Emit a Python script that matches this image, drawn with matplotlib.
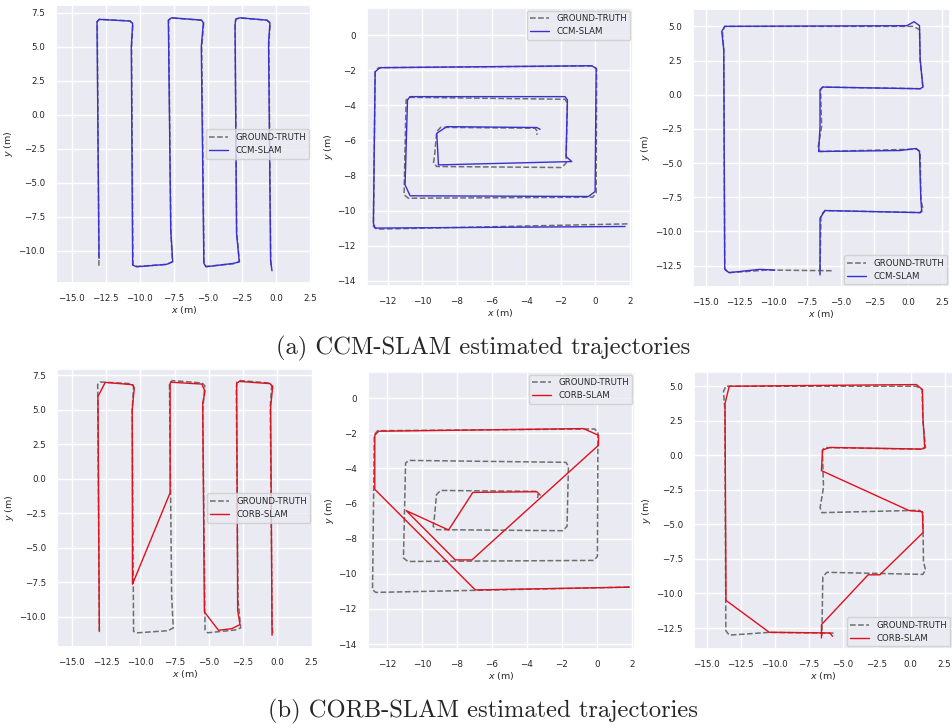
import matplotlib
matplotlib.use("Agg")
import matplotlib.pyplot as plt
import seaborn as sns
import numpy as np

# ---------------- data (metres) ----------------
# Lawn-mower sequence
gt_lawn_x = [-13.0, -13.0, -13.12, -12.95, -10.72, -10.5, -10.6, -10.5, -10.2, -8.0, -7.6, -7.72, -7.88, -7.68,
             -5.5, -5.3, -5.45, -5.28, -5.1, -3.1, -2.68, -2.88, -3.0, -2.95, -2.7, -0.65, -0.42, -0.52, -0.38, -0.32]
gt_lawn_y = [-11.1, -10.6, 6.85, 7.02, 6.9, 6.7, 5.0, -11.05, -11.15, -11.0, -10.8, -8.5, 6.95, 7.12,
             6.95, 6.75, 5.0, -10.95, -11.15, -10.95, -10.8, -8.7, 6.6, 7.02, 7.12, 6.95, 6.75, 5.2, -10.7, -11.3]
ccm_lawn_x = [-12.99, -13.14, -12.99, -10.72, -10.52, -10.62, -10.52, -10.23, -8.03, -7.58, -7.72, -7.9, -7.66,
              -5.46, -5.33, -5.48, -5.29, -5.14, -3.13, -2.69, -2.89, -3.0, -2.95, -2.64, -0.68, -0.44, -0.54, -0.39, -0.29]
ccm_lawn_y = [-10.56, 6.84, 7.01, 6.89, 6.72, 5.0, -11.05, -11.18, -11.0, -10.81, -8.5, 6.96, 7.13,
              6.96, 6.76, 5.0, -10.93, -11.18, -10.93, -10.81, -8.72, 6.59, 7.03, 7.13, 6.96, 6.76, 5.25, -10.69, -11.47]
corb_lawn_x = [-13.0, -13.1, -12.57, -10.55, -10.45, -10.6, -10.58, -7.83, -7.83, -7.75, -5.52, -5.28, -5.45, -5.33,
               -4.3, -3.33, -2.73, -2.9, -2.97, -2.77, -0.54, -0.34, -0.49, -0.39]
corb_lawn_y = [-10.97, 5.97, 6.99, 6.82, 6.58, 5.0, -7.63, -1.0, 6.94, 7.0, 6.87, 6.34, 5.5, -9.64,
               -10.97, -10.85, -10.56, -9.52, 6.94, 7.06, 6.9, 6.7, 5.25, -11.33]

# Spiral sequence
gt_spiral_x = [1.85, -12.64, -12.83, -12.73, -12.54, -0.12, 0.07, 0.04, -0.16, -10.81, -11.06, -10.94, -10.75,
               -1.76, -1.62, -1.7, -1.95, -9.17, -9.36, -9.3, -9.17, -8.94, -3.49, -3.35, -3.39]
gt_spiral_y = [-10.76, -11.06, -10.91, -2.09, -1.86, -1.76, -1.95, -9.01, -9.24, -9.3, -9.1, -3.7, -3.55,
               -3.66, -3.89, -7.3, -7.55, -7.49, -7.3, -6.9, -5.5, -5.26, -5.31, -5.5, -5.69]
ccm_spiral_x = [1.71, -12.73, -12.83, -12.73, -12.44, -0.22, 0.04, -0.02, -0.41, -10.71, -11.0, -10.86, -10.71,
                -1.76, -1.62, -1.7, -1.37, -9.07, -9.17, -8.59, -3.39, -3.2]
ccm_spiral_y = [-10.91, -11.0, -10.72, -2.09, -1.86, -1.75, -1.9, -8.92, -9.2, -9.16, -8.54, -3.7, -3.51,
                -3.51, -3.7, -6.92, -7.21, -7.4, -5.6, -5.22, -5.27, -5.37]
corb_spiral_x = [1.87, -6.95, -12.7, -12.7, -12.48, -0.76, 0.1, 0.1, -7.14, -8.1, -10.9, -8.48, -7.09, -3.43, -3.24]
corb_spiral_y = [-10.76, -10.92, -5.2, -2.12, -1.89, -1.74, -2.12, -2.69, -9.21, -9.21, -6.41, -7.51, -5.37, -5.33, -5.52]

# E-shaped sequence
gt_e_x = [-5.67, -10.5, -12.3, -13.34, -13.59, -13.66, -13.76, -13.59, 0.4, 0.84, 0.89, 1.09, 0.89, -6.34, -6.49,
          -6.41, -6.66, -6.53, 0.64, 0.89, 0.94, 1.09, 0.89, -6.16, -6.46, -6.53]
gt_e_y = [-12.87, -12.82, -12.95, -13.01, -12.7, 3.29, 4.63, 5.0, 5.0, 4.76, 2.56, 0.56, 0.44, 0.56, 0.36,
          -2.32, -3.79, -4.15, -3.98, -4.15, -7.69, -8.3, -8.62, -8.47, -8.79, -13.06]
ccm_e_x = [-9.88, -11.0, -13.27, -13.59, -13.66, -13.81, -13.59, -0.1, 0.44, 0.84, 0.89, 1.09, 0.89, -6.34, -6.53,
           -6.53, -6.63, -0.6, 0.59, 0.84, 0.94, 1.01, 0.89, -6.16, -6.53, -6.53]
ccm_e_y = [-12.82, -12.77, -13.01, -12.77, 3.29, 4.63, 5.0, 5.05, 5.34, 5.05, 2.56, 0.56, 0.44, 0.56, 0.36,
           -2.32, -4.15, -4.08, -3.93, -4.15, -7.69, -8.55, -8.62, -8.47, -9.03, -13.18]
corb_e_x = [-5.75, -5.94, -10.4, -13.58, -13.65, -13.34, 0.42, 0.86, 0.91, 1.03, 0.79, -5.94, -6.48, -6.56,
            -0.12, 0.86, 0.91, -2.27, -3.13, -6.56, -6.56]
corb_e_y = [-13.1, -12.86, -12.81, -10.5, 3.75, 5.0, 5.12, 4.76, 2.54, 0.57, 0.45, 0.57, 0.38, -1.11,
            -4.0, -4.08, -5.59, -8.65, -8.65, -12.26, -13.22]

captions = ["(a) CCM-SLAM estimated trajectories", "(b) CORB-SLAM estimated trajectories"]

# ---------------- style ----------------
sns.set_theme(style="darkgrid")
plt.rcParams["font.family"] = ["DejaVu Sans"]

W, H = 953, 728
fig = plt.figure(figsize=(W / 100, H / 100), dpi=100)


def add_ax(l, r, t, b):
    return fig.add_axes([l / W, 1 - b / H, (r - l) / W, (b - t) / H])


GT_COLOR = "#6e6e6e"
CCM_COLOR = "#3a2fcf"
CORB_COLOR = "#e0101c"

panels = [
    # (rect px: l, r, t, b), xlim, ylim, xticks, yticks, gt, est, label, colour, legend loc
    ((56, 312, 5, 283), (-16.15, 2.65), (-12.37, 8.07), np.arange(-15, 2.6, 2.5), np.arange(-10, 7.6, 2.5),
     gt_lawn_x, gt_lawn_y, ccm_lawn_x, ccm_lawn_y, "CCM-SLAM", CCM_COLOR, "center right"),
    ((367, 633, 8, 286), (-13.2, 2.17), (-14.3, 1.54), np.arange(-12, 2.1, 2), np.arange(-14, 0.1, 2),
     gt_spiral_x, gt_spiral_y, ccm_spiral_x, ccm_spiral_y, "CCM-SLAM", CCM_COLOR, "upper right"),
    ((693, 950, 9, 287), (-15.94, 3.1), (-14.06, 6.27), np.arange(-15, 2.6, 2.5), np.arange(-12.5, 5.1, 2.5),
     gt_e_x, gt_e_y, ccm_e_x, ccm_e_y, "CCM-SLAM", CCM_COLOR, "lower right"),
    ((57, 313, 369, 647), (-16.09, 2.6), (-12.18, 7.96), np.arange(-15, 2.6, 2.5), np.arange(-10, 7.6, 2.5),
     gt_lawn_x, gt_lawn_y, corb_lawn_x, corb_lawn_y, "CORB-SLAM", CORB_COLOR, "center right"),
    ((368, 635, 372, 649), (-13.09, 2.19), (-14.28, 1.48), np.arange(-12, 2.1, 2), np.arange(-14, 0.1, 2),
     gt_spiral_x, gt_spiral_y, corb_spiral_x, corb_spiral_y, "CORB-SLAM", CORB_COLOR, "upper right"),
    ((694, 953, 372, 649), (-15.93, 3.11), (-14.02, 6.03), np.arange(-15, 2.6, 2.5), np.arange(-12.5, 5.1, 2.5),
     gt_e_x, gt_e_y, corb_e_x, corb_e_y, "CORB-SLAM", CORB_COLOR, "lower right"),
]

for (rect, xl, yl, xt, yt, gx, gy, ex, ey, lab, col, loc) in panels:
    ax = add_ax(*rect)
    ax.plot(gx, gy, linestyle="--", color=GT_COLOR, lw=1.1, label="GROUND-TRUTH")
    ax.plot(ex, ey, linestyle="-", color=col, lw=1.0, label=lab)
    ax.set_xlim(*xl)
    ax.set_ylim(*yl)
    ax.set_xticks(xt)
    ax.set_yticks(yt)
    ax.tick_params(labelsize=6.3, pad=2)
    ax.set_xlabel("$x$ (m)", fontsize=6.8, labelpad=1)
    ax.set_ylabel("$y$ (m)", fontsize=6.8, labelpad=2)
    ax.legend(loc=loc, fontsize=6.2, borderaxespad=0.3, handlelength=2.2)

fig.text(483 / W, 1 - 354 / H, captions[0], fontfamily="cmr10", fontsize=17.7, ha="center", va="baseline")
fig.text(483 / W, 1 - 717 / H, captions[1], fontfamily="cmr10", fontsize=17.7, ha="center", va="baseline")

fig.savefig("out.png", dpi=100)
